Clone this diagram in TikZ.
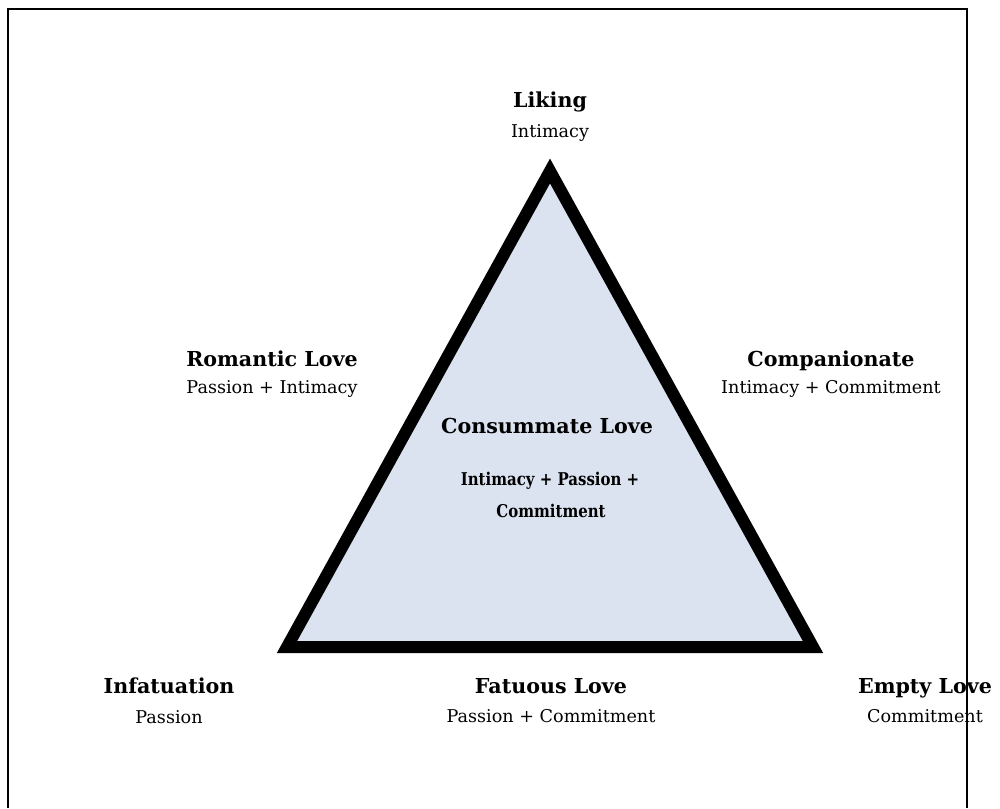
\documentclass[tikz,border=0pt]{standalone}
\usepackage{fontspec}
\setmainfont{DejaVu Serif}
\definecolor{trifill}{RGB}{219,227,240}
\begin{document}
\begin{tikzpicture}[x=1pt,y=-1pt,
  title/.style={anchor=base,inner sep=0pt,font=\bfseries\fontsize{20.6}{24}\selectfont},
  sub/.style={anchor=base,inner sep=0pt,font=\fontsize{17.6}{21}\selectfont},
  inner/.style={anchor=base,inner sep=0pt,font=\bfseries\fontsize{17.6}{21}\selectfont}]
\useasboundingbox (0,0) rectangle (1000,808);
\fill[white] (0,0) rectangle (1000,808);
% triangle
\coordinate (A) at (550,171);
\coordinate (B) at (287,647);
\coordinate (C) at (813,647);
\draw[line width=12pt,line join=miter,fill=trifill] (A) -- (B) -- (C) -- cycle;
% labels
\node[title] (liking) at (550,107) {Liking};
\node[sub] (likingS) at (550,137) {Intimacy};
\node[title] (rom) at (272,366) {Romantic Love};
\node[sub] (romS) at (272,393) {Passion + Intimacy};
\node[title] (comp) at (831,366) {Companionate};
\node[sub] (compS) at (831,393) {Intimacy + Commitment};
\node[title] (cons) at (547,433) {Consummate Love};
\node[inner] (consS1) at (550,485) {\scalebox{0.85}[1]{Intimacy + Passion +}};
\node[inner] (consS2) at (551,517) {\scalebox{0.85}[1]{Commitment}};
\node[title] (inf) at (169,693) {Infatuation};
\node[sub] (infS) at (169,723) {Passion};
\node[title] (fat) at (551,693) {Fatuous Love};
\node[sub] (fatS) at (551,722) {Passion + Commitment};
\node[title] (empty) at (925,693) {Empty Love};
\node[sub] (emptyS) at (925,722) {Commitment};
% frame (open at the bottom)
\coordinate (fBL) at (8,808);
\coordinate (fTL) at (8,9);
\coordinate (fTR) at (967,9);
\coordinate (fBR) at (967,808);
\draw[line width=2pt,line join=miter] (fBL) -- (fTL) -- (fTR) -- (fBR);
\end{tikzpicture}
\end{document}
